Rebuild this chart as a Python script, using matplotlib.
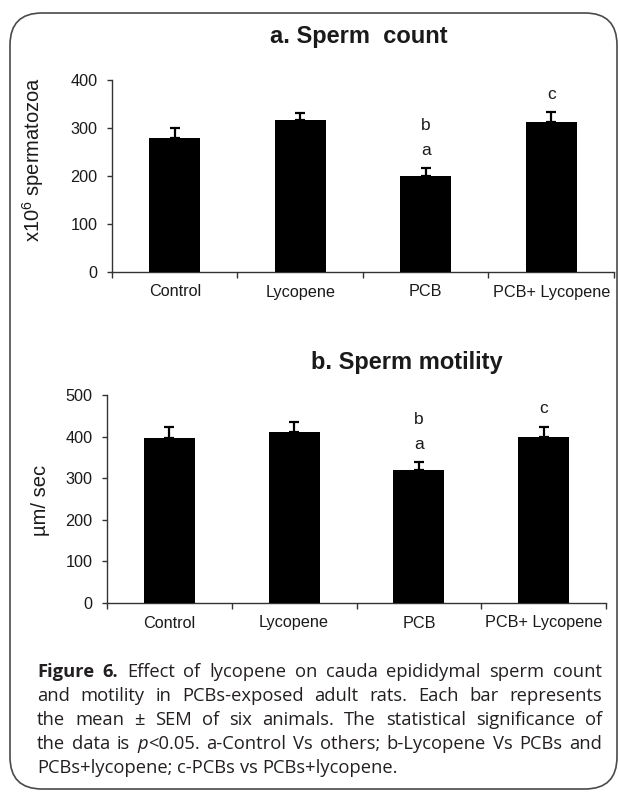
import matplotlib
matplotlib.use("Agg")
import matplotlib.pyplot as plt
from matplotlib.patches import FancyBboxPatch
from matplotlib.ticker import FixedLocator, NullFormatter

plt.rcParams['font.family'] = ['Liberation Sans', 'DejaVu Sans']
plt.rcParams['mathtext.fontset'] = 'custom'
plt.rcParams['mathtext.rm'] = 'Liberation Sans'

# ---------------- data ----------------
categories = ["Control", "Lycopene", "PCB", "PCB+ Lycopene"]
count_mean = [280, 316, 199, 313]
count_sem = [21, 15, 17, 20]
motility_mean = [396, 410, 320, 398]
motility_sem = [28, 24, 18, 26]
count_letters = [["", ""], ["", ""], ["a", "b"], ["c", ""]]
motility_letters = [["", ""], ["", ""], ["a", "b"], ["c", ""]]
count_ticks = [0, 100, 200, 300, 400]
motility_ticks = [0, 100, 200, 300, 400, 500]

W, H = 619, 798
fig = plt.figure(figsize=(W / 100, H / 100), dpi=100)

# overlay in pixel coordinates
ov = fig.add_axes([0, 0, 1, 1])
ov.set_xlim(0, W)
ov.set_ylim(H, 0)
ov.axis('off')
ov.add_patch(FancyBboxPatch((10, 13), 607, 776,
                            boxstyle="round,pad=0,rounding_size=32",
                            fc='none', ec='#4a4a4a', lw=1.2))

TXT = '#1a1a1a'


def draw_chart(rect, means, sems, ticks, letters):
    ax = fig.add_axes(rect)
    ax.patch.set_alpha(0)
    x = [i + 0.5 for i in range(len(means))]
    ax.bar(x, means, width=0.41, color='black', zorder=3)
    ax.errorbar(x, means, yerr=[[0] * len(sems), sems], fmt='none',
                ecolor='black', elinewidth=1.6, capsize=3.8, capthick=1.6, zorder=2)
    ax.set_xlim(0, len(means))
    ax.set_ylim(ticks[0], ticks[-1])
    ax.set_yticks(ticks)
    ax.set_xticks(x)
    ax.set_xticklabels(categories)
    ax.xaxis.set_minor_locator(FixedLocator(list(range(len(means) + 1))))
    ax.xaxis.set_minor_formatter(NullFormatter())
    ax.tick_params(axis='x', which='major', length=0, pad=9, labelsize=11.7, labelcolor=TXT)
    ax.tick_params(axis='x', which='minor', length=4, width=1, direction='out', color='#333333')
    ax.tick_params(axis='y', length=3.5, width=1, direction='out', pad=7,
                   labelsize=11.7, labelcolor=TXT, color='#333333')
    for s in ('top', 'right'):
        ax.spines[s].set_visible(False)
    for s in ('left', 'bottom'):
        ax.spines[s].set_color('#333333')
        ax.spines[s].set_linewidth(1.0)
    for xi, m, e, labs in zip(x, means, sems, letters):
        for k, lab in enumerate(labs):
            if lab:
                ax.annotate(lab, (xi, m + e), xytext=(0, 9.5 + k * 18),
                            textcoords='offset points', ha='center', va='baseline',
                            fontsize=12.5, color=TXT)
    return ax


ax1 = draw_chart([112 / W, (H - 272) / H, (614 - 112) / W, (272 - 80) / H],
                 count_mean, count_sem, count_ticks, count_letters)
ax2 = draw_chart([107 / W, (H - 603) / H, (606 - 107) / W, (603 - 395) / H],
                 motility_mean, motility_sem, motility_ticks, motility_letters)

ov.text(359, 36, "a. Sperm  count", ha='center', va='center', fontsize=17,
        fontweight='bold', color=TXT)
ov.text(407, 363, "b. Sperm motility", ha='center', va='center', fontsize=17,
        fontweight='bold', color=TXT)
ov.text(33, 160, "x10$^{6}$ spermatozoa", ha='center', va='center', rotation=90,
        fontsize=14.5, color=TXT)
ov.text(40, 500, "\u00b5m/ sec", ha='center', va='center', rotation=90,
        fontsize=14.5, color=TXT)

# ---------------- caption (justified) ----------------
CAP_FONT = ['Open Sans', 'DejaVu Sans']
CAP_SIZE = 13.2
R = 'normal'
caption_lines = [
    [[("Figure", 'b')], [("6.", 'b')], [("Effect", R)], [("of", R)], [("lycopene", R)], [("on", R)],
     [("cauda", R)], [("epididymal", R)], [("sperm", R)], [("count", R)]],
    [[(w, R)] for w in "and motility in PCBs-exposed adult rats. Each bar represents".split()],
    [[(w, R)] for w in "the mean \u00b1 SEM of six animals. The statistical significance of".split()],
    [[("the", R)], [("data", R)], [("is", R)], [("p", 'i'), ("<0.05.", R)], [("a-Control", R)],
     [("Vs", R)], [("others;", R)], [("b-Lycopene", R)], [("Vs", R)], [("PCBs", R)], [("and", R)]],
    [[(w, R)] for w in "PCBs+lycopene; c-PCBs vs PCBs+lycopene.".split()],
]
x_left, x_right = 37, 602
baselines = [677, 701, 725, 749, 773]

fig.canvas.draw()
renderer = fig.canvas.get_renderer()


def make(piece, style):
    kw = dict(fontsize=CAP_SIZE, family=CAP_FONT, color='#231f20', va='baseline', ha='left')
    if style == 'b':
        kw['fontweight'] = 'bold'
    if style == 'i':
        kw['fontstyle'] = 'italic'
    return ov.text(0, 0, piece, **kw)


probe = make("n n", R)
w3 = probe.get_window_extent(renderer).width
probe.set_text("nn")
space_w = w3 - probe.get_window_extent(renderer).width
probe.remove()

for li, (line, yb) in enumerate(zip(caption_lines, baselines)):
    words = []
    for word in line:
        arts = [make(p, s) for p, s in word]
        ws = [a.get_window_extent(renderer).width for a in arts]
        words.append((arts, ws))
    total = sum(sum(ws) for _, ws in words)
    if li < len(caption_lines) - 1:
        gap = max((x_right - x_left - total) / (len(words) - 1), 2.0)
    else:
        gap = space_w
    cx = x_left
    for arts, ws in words:
        for a, w in zip(arts, ws):
            a.set_position((cx, yb))
            cx += w
        cx += gap

fig.savefig("out.png", dpi=100)
